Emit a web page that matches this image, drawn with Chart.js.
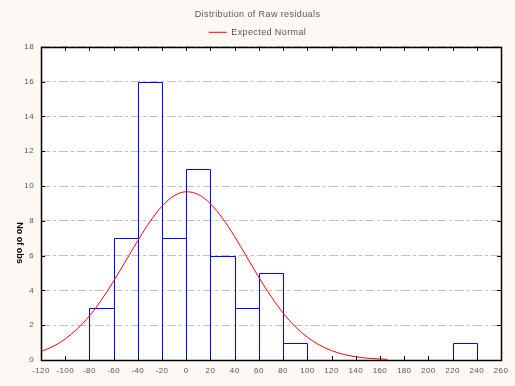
<!DOCTYPE html>
<html>
<head>
<meta charset="utf-8">
<script src="https://cdn.jsdelivr.net/npm/chart.js@4/dist/chart.umd.min.js"></script>
<style>
  html, body { margin: 0; padding: 0; background: #fdf8f4; }
  #wrap { width: 515px; height: 386px; }
</style>
</head>
<body>
<div id="wrap"><canvas id="hist"></canvas></div>
<script>
// histogram bins (lower edge, width 20) and counts
var binStarts = [-80, -60, -40, -20, 0, 20, 40, 60, 80, 220];
var binCounts = [3, 7, 16, 7, 11, 6, 3, 5, 1, 1];
var binWidth = 20;

// expected normal curve
var curveX = [-120, -110, -100, -90, -80, -70, -60, -50, -40, -30, -20, -10, 0, 10, 20, 30, 40, 50, 60, 70, 80, 90, 100, 110, 120, 130, 140, 150, 160, 166];
var curveY = [0.49, 0.78, 1.21, 1.79, 2.53, 3.46, 4.53, 5.69, 6.86, 7.95, 8.84, 9.44, 9.67, 9.51, 8.98, 8.14, 7.09, 5.92, 4.75, 3.66, 2.70, 1.92, 1.31, 0.86, 0.54, 0.32, 0.19, 0.10, 0.06, 0.04];

var xTicks = [-120, 260, 20];
var yTicks = [0, 18, 2];

var titleText = "Distribution of Raw residuals";
var legendText = "Expected Normal";
var yTitle = "No of obs";

var barData = binStarts.map(function (s, i) { return { x: s + binWidth / 2, y: binCounts[i] }; });
var lineData = curveX.map(function (x, i) { return { x: x, y: curveY[i] }; });

var FONT = "'Liberation Sans', Arial, sans-serif";
var SPACING = '0.4px';

// page colour, white plot area, letter spacing
var backdrop = {
    id: 'backdrop',
    beforeLayout: function (chart) { chart.ctx.letterSpacing = SPACING; },
    beforeDraw: function (chart) {
        var ctx = chart.ctx, a = chart.chartArea;
        ctx.save();
        ctx.fillStyle = '#fdf8f4';
        ctx.fillRect(0, 0, chart.width, chart.height);
        ctx.fillStyle = '#ffffff';
        ctx.fillRect(a.left, a.top, a.right - a.left, a.bottom - a.top);
        ctx.restore();
        ctx.letterSpacing = SPACING;
    }
};

// crisp 1px outlines for the histogram bars (positions from the bar elements)
var outlines = {
    id: 'outlines',
    afterDatasetDraw: function (chart, args) {
        if (args.meta.type !== 'bar') return;
        var ctx = chart.ctx;
        ctx.save();
        ctx.strokeStyle = '#0000ff';
        ctx.lineWidth = 1;
        ctx.beginPath();
        args.meta.data.forEach(function (bar) {
            var l = Math.round(bar.x - bar.width / 2) + 0.5;
            var r = Math.round(bar.x + bar.width / 2) + 0.5;
            var t = Math.round(bar.y) + 0.5;
            var b = Math.round(bar.base);
            ctx.moveTo(l, b); ctx.lineTo(l, t); ctx.lineTo(r, t); ctx.lineTo(r, b);
        });
        ctx.stroke();
        ctx.restore();
    }
};

// black frame, inner tick marks, rotated y title
var frame = {
    id: 'frame',
    afterDraw: function (chart) {
        var ctx = chart.ctx, a = chart.chartArea;
        var xs = chart.scales.x, ys = chart.scales.y;
        ctx.save();
        ctx.strokeStyle = '#000000';
        ctx.lineWidth = 1;
        ctx.beginPath();
        xs.ticks.forEach(function (t) {
            var px = Math.round(xs.getPixelForValue(t.value)) + 0.5;
            ctx.moveTo(px, a.bottom); ctx.lineTo(px, a.bottom - 4);
            ctx.moveTo(px, a.top); ctx.lineTo(px, a.top + 4);
        });
        ys.ticks.forEach(function (t) {
            var py = Math.round(ys.getPixelForValue(t.value)) + 0.5;
            ctx.moveTo(a.left, py); ctx.lineTo(a.left + 4, py);
            ctx.moveTo(a.right, py); ctx.lineTo(a.right - 4, py);
        });
        ctx.stroke();
        ctx.lineWidth = 1.5;
        ctx.strokeRect(Math.round(a.left) + 0.5, Math.round(a.top) + 0.5,
            Math.round(a.right - a.left), Math.round(a.bottom - a.top));

        ctx.translate(19, 243);
        ctx.rotate(Math.PI / 2);
        ctx.letterSpacing = '0px';
        ctx.font = 'bold 9px ' + FONT;
        ctx.fillStyle = '#000000';
        ctx.textAlign = 'center';
        ctx.textBaseline = 'middle';
        ctx.fillText(yTitle, 0, 0);
        ctx.restore();
    }
};

new Chart(document.getElementById('hist').getContext('2d'), {
    data: {
        datasets: [
            {
                type: 'line',
                label: legendText,
                data: lineData,
                borderColor: '#ff0000',
                borderWidth: 1,
                pointRadius: 0,
                pointStyle: 'line',
                cubicInterpolationMode: 'monotone',
                order: 0
            },
            {
                type: 'bar',
                label: 'counts',
                data: barData,
                backgroundColor: 'rgba(255,255,255,0)',
                borderWidth: 0,
                barPercentage: 1,
                categoryPercentage: 1,
                order: 1
            }
        ]
    },
    options: {
        responsive: true,
        maintainAspectRatio: false,
        animation: false,
        devicePixelRatio: 1,
        layout: { padding: { left: 0, right: 0, top: 5, bottom: 0 } },
        plugins: {
            title: {
                display: true,
                text: titleText,
                color: '#555555',
                font: { family: FONT, size: 9, weight: 'normal' },
                padding: { top: 4, bottom: 4 }
            },
            legend: {
                display: true,
                labels: {
                    filter: function (item) { return item.text === legendText; },
                    usePointStyle: true,
                    pointStyleWidth: 18,
                    boxHeight: 6,
                    color: '#555555',
                    font: { family: FONT, size: 9 },
                    padding: 4
                }
            },
            tooltip: { enabled: false }
        },
        scales: {
            x: {
                type: 'linear',
                offset: false,
                min: xTicks[0],
                max: xTicks[1],
                ticks: { stepSize: xTicks[2], color: '#555555', font: { family: FONT, size: 8 }, padding: 6, maxRotation: 0, autoSkip: false },
                grid: { display: false, drawTicks: false },
                border: { display: false },
                afterFit: function (s) { s.height = 26; }
            },
            y: {
                min: yTicks[0],
                max: yTicks[1],
                ticks: { stepSize: yTicks[2], color: '#555555', font: { family: FONT, size: 8 }, padding: 7 },
                grid: { color: '#c0c0c0', lineWidth: 1, drawTicks: false },
                border: { display: false, dash: [9, 3, 3, 3] },
                afterFit: function (s) { s.width = 41; }
            },
            // empty strip on the right so the plot ends where the original does
            pad: {
                type: 'linear',
                position: 'right',
                display: true,
                ticks: { display: false },
                grid: { display: false, drawTicks: false },
                border: { display: false },
                afterFit: function (s) { s.width = 14; }
            }
        }
    },
    plugins: [backdrop, outlines, frame]
});
</script>
</body>
</html>
